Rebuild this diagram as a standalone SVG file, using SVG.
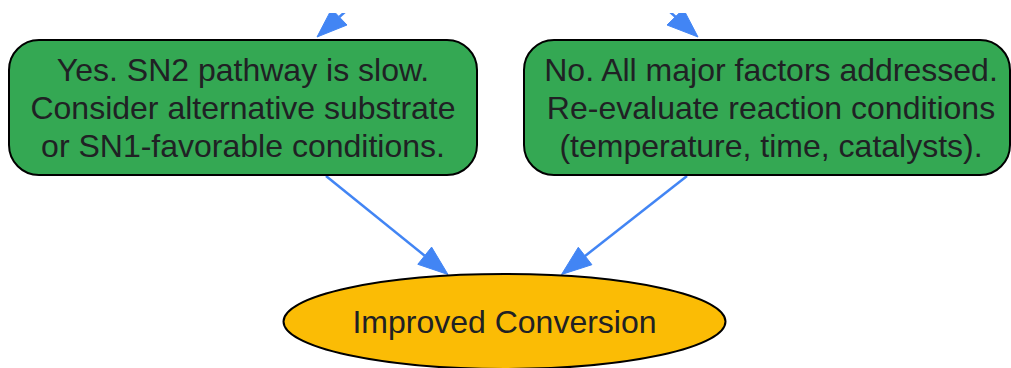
<svg xmlns="http://www.w3.org/2000/svg" width="1011" height="368" viewBox="0 0 1011 368">
<defs>
<style>
.node rect{fill:#34A853;stroke:#000;stroke-width:2}
.node ellipse{fill:#FBBC05;stroke:#000;stroke-width:2}
.node text{font-family:"Liberation Sans",Arial,sans-serif;font-size:32px;fill:#202124;text-anchor:middle}
.edge line{stroke:#4285F4;stroke-width:2.5}
.edge polygon{fill:#4285F4;stroke:#4285F4;stroke-width:1}
</style>
<clipPath id="topclip"><rect x="0" y="13" width="1011" height="355"/></clipPath>
</defs>
<rect width="1011" height="368" fill="#fff"/>
<g id="edges" class="edge">
<g clip-path="url(#topclip)">
<line x1="339.3" y1="17" x2="360" y2="-1.6"/>
<polygon points="317,37 347,25 331.6,9"/>
<line x1="675.7" y1="17" x2="655" y2="-1.6"/>
<polygon points="698,37 667,25 683.4,9"/>
</g>
<line x1="326" y1="176" x2="424.7" y2="255.7"/>
<polygon points="448,274.5 417.8,264.3 431.6,247.1"/>
<line x1="687" y1="176" x2="585.1" y2="256"/>
<polygon points="561.5,274.5 591.9,264.7 578.3,247.3"/>
</g>
<g id="node_yes" class="node">
<rect x="9" y="40" width="468" height="135" rx="30" ry="30"/>
<text x="243" y="81">Yes. SN2 pathway is slow.</text>
<text x="243" y="119">Consider alternative substrate</text>
<text x="243" y="157">or SN1-favorable conditions.</text>
</g>
<g id="node_no" class="node">
<rect x="524" y="40" width="486" height="135" rx="30" ry="30"/>
<text x="771" y="81">No. All major factors addressed.</text>
<text x="771" y="119">Re-evaluate reaction conditions</text>
<text x="771" y="157">(temperature, time, catalysts).</text>
</g>
<g id="node_improved" class="node">
<ellipse cx="504.5" cy="321.5" rx="221" ry="47.5"/>
<text x="504.5" y="333">Improved Conversion</text>
</g>
</svg>
